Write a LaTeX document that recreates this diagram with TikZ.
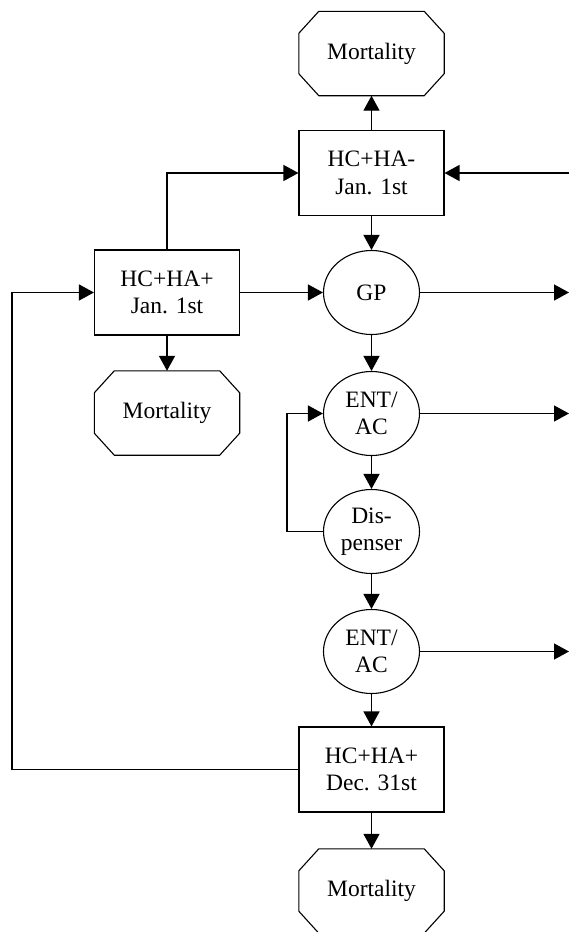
\documentclass[tikz,border=0pt]{standalone}
\usepackage{fontspec}
\setmainfont{Liberation Serif}
\usetikzlibrary{arrows.meta,shapes.geometric}
\tikzset{
  txt/.style={font=\fontsize{23.5}{27.5}\selectfont, align=center, inner sep=0pt},
  boxnode/.style={txt, draw, line width=1.1pt, rectangle, minimum width=145pt, minimum height=85pt},
  ellnode/.style={txt, draw, line width=1.1pt, ellipse, minimum width=96pt, minimum height=84pt},
  octnode/.style={txt, rectangle, minimum width=145pt, minimum height=84pt},
  octline/.style={line width=1.1pt},
  arr/.style={line width=1.4pt, -{Triangle[length=15pt,width=16pt]}},
  conn/.style={line width=1.4pt}
}
\newcommand{\octdraw}[1]{%
  \draw[octline] ([xshift=20pt]#1.north west) -- ([xshift=-20pt]#1.north east)
    -- ([yshift=-22pt]#1.north east) -- ([yshift=22pt]#1.south east)
    -- ([xshift=-20pt]#1.south east) -- ([xshift=20pt]#1.south west)
    -- ([yshift=22pt]#1.south west) -- ([yshift=-22pt]#1.north west) -- cycle;}
\begin{document}
\begin{tikzpicture}[x=1pt,y=-1pt]
\useasboundingbox (0,0) rectangle (569,932);
% nodes
\node[octnode] (mt) at (371.5,53.5) {Mortality};
\node[boxnode] (hcm) at (371.5,173) {HC+HA-\\Jan. 1st};
\node[boxnode] (hcp) at (167,292.5) {HC+HA+\\Jan. 1st};
\node[octnode] (ml) at (167,413) {Mortality};
\node[ellnode] (gp) at (371.5,292.5) {GP};
\node[ellnode] (e1) at (371.5,413.5) {ENT/\\AC};
\node[ellnode] (ds) at (371.5,531.5) {Dis-\\penser};
\node[ellnode] (e2) at (371.5,651.5) {ENT/\\AC};
\node[boxnode] (dec) at (371.5,769.5) {HC+HA+\\Dec. 31st};
\node[octnode] (mb) at (371.5,891) {Mortality};
\octdraw{mt}
\octdraw{ml}
\octdraw{mb}
% helper coordinates
\coordinate (rin) at (569,173);
\coordinate (rgp) at (569,292.5);
\coordinate (re1) at (569,413.5);
\coordinate (re2) at (569,651.5);
\coordinate (lft) at (12,769.5);
\coordinate (lp) at (287,531.5);
% connectors
\draw[arr] (hcm.north) -- (mt.south);
\draw[arr] (rin) -- (hcm.east);
\draw[arr] (hcm.south) -- (gp.north);
\draw[arr] (hcp.north) |- (hcm.west);
\draw[arr] (dec.west) -- (lft) |- (hcp.west);
\draw[arr] (hcp.east) -- (gp.west);
\draw[arr] (hcp.south) -- (ml.north);
\draw[arr] (gp.east) -- (rgp);
\draw[arr] (gp.south) -- (e1.north);
\draw[arr] (e1.east) -- (re1);
\draw[arr] (e1.south) -- (ds.north);
\draw[arr] (ds.west) -- (lp) |- (e1.west);
\draw[arr] (ds.south) -- (e2.north);
\draw[arr] (e2.east) -- (re2);
\draw[arr] (e2.south) -- (dec.north);
\draw[arr] (dec.south) -- (mb.north);
\end{tikzpicture}
\end{document}
